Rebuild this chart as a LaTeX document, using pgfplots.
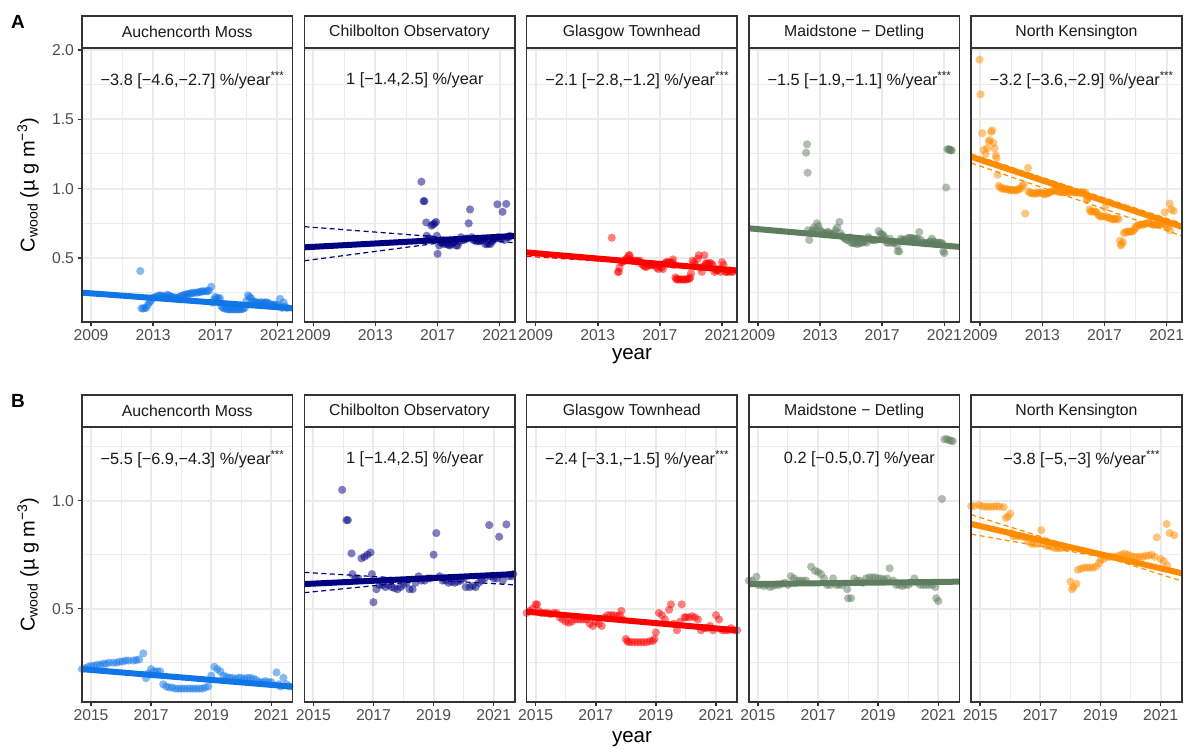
\documentclass[border=0pt]{standalone}
\usepackage{fontspec}
\setmainfont{Liberation Sans}
\usepackage{pgfplots}
\usepackage{pgfplotstable}
\pgfplotsset{compat=1.18}
\definecolor{cAM}{RGB}{16,118,232}
\definecolor{cCO}{RGB}{0,0,128}
\definecolor{cGT}{RGB}{255,0,0}
\definecolor{cMD}{RGB}{95,125,95}
\definecolor{cNK}{RGB}{255,140,0}
\definecolor{gridc}{RGB}{235,235,235}
\definecolor{framec}{RGB}{51,51,51}
\definecolor{tickc}{RGB}{77,77,77}
\definecolor{txtc}{RGB}{26,26,26}

\pgfplotstableread[row sep=\\]{x y\\
2012.17 0.406\\ 2012.25 0.137\\ 2012.35 0.135\\ 2012.45 0.14\\ 2012.55 0.14\\ 2012.65 0.16\\ 2012.75 0.18\\ 2012.85 0.19\\ 2012.95 0.21\\
2013.05 0.215\\ 2013.15 0.22\\ 2013.3 0.225\\ 2013.4 0.23\\ 2013.5 0.23\\ 2013.6 0.225\\ 2013.7 0.22\\ 2013.8 0.22\\ 2013.9 0.235\\
2014.0 0.23\\ 2014.1 0.225\\ 2014.2 0.22\\ 2014.3 0.215\\ 2014.4 0.215\\ 2014.5 0.21\\ 2014.6 0.215\\ 2014.7 0.22\\ 2014.8 0.225\\ 2014.9 0.23\\
2015.0 0.235\\ 2015.1 0.235\\ 2015.2 0.24\\ 2015.3 0.24\\ 2015.4 0.245\\ 2015.5 0.245\\ 2015.6 0.25\\ 2015.74 0.25\\ 2015.85 0.25\\ 2015.95 0.255\\
2016.05 0.255\\ 2016.15 0.26\\ 2016.25 0.26\\ 2016.4 0.26\\ 2016.5 0.262\\ 2016.6 0.265\\ 2016.74 0.293\\ 2016.83 0.178\\ 2016.9 0.2\\
2017.0 0.22\\ 2017.1 0.21\\ 2017.2 0.21\\ 2017.3 0.21\\ 2017.4 0.15\\ 2017.5 0.14\\ 2017.6 0.135\\ 2017.7 0.135\\ 2017.8 0.13\\ 2017.9 0.13\\
2018.0 0.13\\ 2018.1 0.13\\ 2018.2 0.13\\ 2018.3 0.13\\ 2018.4 0.13\\ 2018.5 0.13\\ 2018.6 0.13\\ 2018.7 0.13\\ 2018.8 0.135\\ 2018.9 0.14\\
2019.0 0.19\\ 2019.1 0.231\\ 2019.2 0.22\\ 2019.3 0.21\\ 2019.4 0.19\\ 2019.5 0.185\\ 2019.6 0.18\\ 2019.7 0.18\\ 2019.8 0.175\\ 2019.9 0.18\\
2020.0 0.18\\ 2020.1 0.175\\ 2020.2 0.18\\ 2020.3 0.18\\ 2020.4 0.175\\ 2020.5 0.17\\ 2020.6 0.16\\ 2020.7 0.16\\ 2020.8 0.165\\ 2020.9 0.16\\
2021.0 0.16\\ 2021.17 0.205\\ 2021.25 0.15\\ 2021.3 0.14\\ 2021.4 0.18\\ 2021.5 0.15\\ 2021.6 0.14\\
}\AM

\pgfplotstableread[row sep=\\]{x y\\
2015.96 1.05\\ 2016.1 0.91\\ 2016.15 0.91\\ 2016.27 0.756\\ 2016.3 0.66\\ 2016.4 0.64\\ 2016.5 0.64\\ 2016.6 0.733\\ 2016.7 0.74\\ 2016.8 0.75\\ 2016.9 0.76\\ 2016.95 0.66\\
2017.0 0.53\\ 2017.1 0.59\\ 2017.2 0.61\\ 2017.3 0.61\\ 2017.4 0.60\\ 2017.5 0.61\\ 2017.6 0.60\\ 2017.7 0.595\\ 2017.8 0.59\\ 2017.9 0.60\\
2018.0 0.61\\ 2018.1 0.62\\ 2018.2 0.59\\ 2018.3 0.59\\ 2018.4 0.62\\ 2018.5 0.65\\ 2018.6 0.63\\ 2018.7 0.63\\ 2018.8 0.64\\ 2018.9 0.64\\
2019.0 0.75\\ 2019.09 0.85\\ 2019.2 0.65\\ 2019.3 0.63\\ 2019.4 0.63\\ 2019.5 0.62\\ 2019.6 0.625\\ 2019.7 0.62\\ 2019.8 0.625\\ 2019.9 0.63\\
2020.0 0.64\\ 2020.07 0.60\\ 2020.2 0.60\\ 2020.3 0.605\\ 2020.4 0.60\\ 2020.5 0.62\\ 2020.6 0.63\\ 2020.7 0.64\\ 2020.85 0.887\\ 2020.9 0.65\\
2021.0 0.64\\ 2021.1 0.64\\ 2021.18 0.833\\ 2021.3 0.63\\ 2021.42 0.89\\ 2021.5 0.65\\ 2021.6 0.65\\ 2021.65 0.66\\
}\CO

\pgfplotstableread[row sep=\\]{x y\\
2013.9 0.646\\ 2014.3 0.40\\ 2014.35 0.40\\ 2014.4 0.43\\ 2014.5 0.47\\ 2014.6 0.47\\ 2014.7 0.48\\ 2014.8 0.49\\ 2014.9 0.50\\
2015.0 0.52\\ 2015.05 0.52\\ 2015.1 0.49\\ 2015.2 0.48\\ 2015.3 0.48\\ 2015.4 0.48\\ 2015.5 0.475\\ 2015.6 0.48\\ 2015.7 0.48\\ 2015.8 0.46\\ 2015.9 0.45\\
2016.0 0.44\\ 2016.1 0.435\\ 2016.2 0.44\\ 2016.3 0.45\\ 2016.4 0.45\\ 2016.5 0.45\\ 2016.6 0.45\\ 2016.7 0.45\\ 2016.8 0.43\\ 2016.9 0.42\\
2017.0 0.44\\ 2017.1 0.43\\ 2017.2 0.42\\ 2017.3 0.46\\ 2017.4 0.47\\ 2017.5 0.47\\ 2017.6 0.47\\ 2017.7 0.465\\ 2017.8 0.47\\ 2017.85 0.49\\ 2017.9 0.45\\
2018.0 0.36\\ 2018.05 0.35\\ 2018.1 0.345\\ 2018.2 0.345\\ 2018.3 0.345\\ 2018.4 0.345\\ 2018.5 0.345\\ 2018.6 0.345\\ 2018.7 0.345\\ 2018.8 0.35\\ 2018.9 0.35\\ 2018.95 0.36\\
2019.0 0.39\\ 2019.1 0.48\\ 2019.2 0.47\\ 2019.3 0.45\\ 2019.44 0.495\\ 2019.5 0.52\\ 2019.6 0.43\\ 2019.7 0.40\\ 2019.8 0.44\\ 2019.86 0.52\\ 2019.95 0.46\\
2020.0 0.46\\ 2020.1 0.46\\ 2020.2 0.465\\ 2020.3 0.46\\ 2020.4 0.45\\ 2020.5 0.40\\ 2020.6 0.41\\ 2020.7 0.41\\ 2020.8 0.42\\ 2020.9 0.40\\
2021.0 0.47\\ 2021.1 0.45\\ 2021.2 0.40\\ 2021.3 0.40\\ 2021.4 0.40\\ 2021.5 0.41\\ 2021.6 0.40\\ 2021.7 0.40\\
}\GT

\pgfplotstableread[row sep=\\]{x y\\
2012.1 1.26\\ 2012.16 1.32\\ 2012.2 1.115\\ 2012.22 0.70\\ 2012.3 0.63\\ 2012.4 0.68\\ 2012.5 0.70\\ 2012.6 0.72\\ 2012.7 0.70\\ 2012.8 0.75\\ 2012.9 0.73\\
2013.0 0.70\\ 2013.1 0.69\\ 2013.2 0.68\\ 2013.3 0.67\\ 2013.4 0.68\\ 2013.5 0.69\\ 2013.6 0.68\\ 2013.7 0.67\\ 2013.8 0.67\\ 2013.9 0.68\\
2014.0 0.70\\ 2014.1 0.72\\ 2014.25 0.76\\ 2014.3 0.68\\ 2014.4 0.66\\ 2014.5 0.65\\ 2014.6 0.64\\ 2014.7 0.63\\ 2014.8 0.63\\ 2014.95 0.648\\
2015.0 0.61\\ 2015.1 0.61\\ 2015.2 0.605\\ 2015.3 0.61\\ 2015.4 0.60\\ 2015.5 0.605\\ 2015.6 0.61\\ 2015.7 0.61\\ 2015.8 0.615\\ 2015.9 0.62\\
2016.0 0.61\\ 2016.1 0.65\\ 2016.2 0.64\\ 2016.3 0.63\\ 2016.4 0.63\\ 2016.5 0.63\\ 2016.6 0.63\\ 2016.77 0.694\\ 2016.9 0.675\\
2017.0 0.67\\ 2017.1 0.66\\ 2017.2 0.64\\ 2017.3 0.61\\ 2017.4 0.61\\ 2017.5 0.64\\ 2017.6 0.61\\ 2017.7 0.61\\ 2017.8 0.61\\ 2017.97 0.59\\
2018.0 0.548\\ 2018.1 0.548\\ 2018.2 0.64\\ 2018.3 0.63\\ 2018.4 0.63\\ 2018.5 0.62\\ 2018.6 0.64\\ 2018.7 0.645\\ 2018.8 0.645\\ 2018.9 0.645\\
2019.0 0.64\\ 2019.1 0.64\\ 2019.2 0.635\\ 2019.3 0.64\\ 2019.38 0.687\\ 2019.5 0.63\\ 2019.6 0.61\\ 2019.7 0.61\\ 2019.8 0.605\\ 2019.9 0.61\\
2020.0 0.61\\ 2020.1 0.62\\ 2020.2 0.64\\ 2020.3 0.62\\ 2020.4 0.61\\ 2020.5 0.61\\ 2020.6 0.61\\ 2020.7 0.61\\ 2020.8 0.61\\ 2020.9 0.60\\
2020.93 0.548\\ 2021.0 0.535\\ 2021.12 1.008\\ 2021.2 1.284\\ 2021.28 1.285\\ 2021.35 1.28\\ 2021.42 1.278\\ 2021.48 1.275\\
}\MD

\pgfplotstableread[row sep=\\]{x y\\
2008.95 1.93\\ 2009.02 1.68\\ 2009.13 1.40\\ 2009.23 1.28\\ 2009.35 1.25\\ 2009.45 1.29\\ 2009.55 1.34\\ 2009.62 1.35\\ 2009.7 1.41\\ 2009.77 1.42\\ 2009.85 1.33\\ 2009.92 1.29\\
2010.0 1.24\\ 2010.05 1.22\\ 2010.12 1.10\\ 2010.2 1.02\\ 2010.3 1.01\\ 2010.4 1.0\\ 2010.5 1.0\\ 2010.6 1.0\\ 2010.7 0.995\\ 2010.8 0.995\\ 2010.9 0.99\\
2011.0 0.99\\ 2011.1 0.99\\ 2011.2 0.99\\ 2011.3 0.99\\ 2011.4 0.99\\ 2011.5 1.0\\ 2011.6 1.0\\ 2011.7 1.02\\ 2011.8 1.03\\ 2011.9 0.82\\
2012.08 1.15\\ 2012.1 0.98\\ 2012.2 0.97\\ 2012.3 0.97\\ 2012.4 0.965\\ 2012.5 0.965\\ 2012.6 0.965\\ 2012.7 0.97\\ 2012.8 0.97\\ 2012.9 0.97\\
2013.0 0.97\\ 2013.1 0.96\\ 2013.2 0.96\\ 2013.3 0.965\\ 2013.4 0.97\\ 2013.5 0.975\\ 2013.6 0.98\\ 2013.7 0.985\\ 2013.8 0.985\\ 2013.9 0.985\\
2014.0 0.98\\ 2014.1 0.975\\ 2014.2 0.975\\ 2014.3 0.975\\ 2014.4 0.975\\ 2014.5 0.975\\ 2014.6 0.975\\ 2014.7 0.975\\ 2014.8 0.975\\ 2014.95 0.98\\
2015.05 0.975\\ 2015.15 0.972\\ 2015.25 0.972\\ 2015.35 0.972\\ 2015.45 0.972\\ 2015.55 0.975\\ 2015.65 0.972\\ 2015.78 0.97\\ 2015.85 0.92\\ 2015.92 0.926\\
2016.0 0.94\\ 2016.05 0.85\\ 2016.1 0.835\\ 2016.2 0.835\\ 2016.3 0.835\\ 2016.4 0.835\\ 2016.5 0.83\\ 2016.6 0.81\\ 2016.7 0.80\\ 2016.8 0.80\\ 2016.9 0.80\\
2017.03 0.864\\ 2017.1 0.80\\ 2017.2 0.79\\ 2017.3 0.79\\ 2017.4 0.785\\ 2017.5 0.78\\ 2017.6 0.78\\ 2017.7 0.78\\ 2017.8 0.785\\ 2017.9 0.78\\
2018.0 0.625\\ 2018.05 0.59\\ 2018.1 0.60\\ 2018.2 0.615\\ 2018.25 0.68\\ 2018.35 0.685\\ 2018.45 0.69\\ 2018.55 0.69\\ 2018.65 0.69\\ 2018.75 0.69\\ 2018.85 0.695\\ 2018.95 0.71\\
2019.0 0.725\\ 2019.1 0.73\\ 2019.2 0.74\\ 2019.3 0.74\\ 2019.4 0.74\\ 2019.5 0.74\\ 2019.6 0.745\\ 2019.7 0.75\\ 2019.8 0.755\\ 2019.9 0.75\\
2020.0 0.745\\ 2020.1 0.74\\ 2020.2 0.74\\ 2020.3 0.74\\ 2020.4 0.74\\ 2020.5 0.745\\ 2020.6 0.745\\ 2020.7 0.75\\ 2020.8 0.74\\ 2020.87 0.83\\
2021.0 0.73\\ 2021.1 0.72\\ 2021.2 0.892\\ 2021.22 0.70\\ 2021.3 0.85\\ 2021.45 0.84\\
}\NK

\tikzset{ann/.style={font=\fontsize{16.3}{17}\selectfont, text=txtc}}

\pgfplotsset{
  panel/.style={scale only axis, width=210.5pt, anchor=north west, clip=true,
    grid=both,
    major grid style={draw=gridc, line width=2pt},
    minor grid style={draw=gridc, line width=1pt},
    axis line style={draw=none},
    tick align=outside, tick pos=left,
    major tick length=4.5pt, minor tick length=0pt,
    tick style={draw=framec, line width=1.5pt},
    tick label style={font=\fontsize{15.7}{16}\selectfont, text=tickc},
    /pgf/number format/assume math mode=true},
  rowA/.style={height=274pt, xmin=2008.42, xmax=2021.97, ymin=0.0385, ymax=2.0144,
    xtick={2009,2013,2017,2021}, xticklabels={2009,2013,2017,2021},
    minor xtick={2011,2015,2019},
    ytick={0.5,1,1.5,2}, minor ytick={0.25,0.75,1.25,1.75}},
  rowB/.style={height=275pt, xmin=2014.7, xmax=2021.7, ymin=0.068, ymax=1.341,
    xtick={2015,2017,2019,2021}, xticklabels={2015,2017,2019,2021},
    minor xtick={2016,2018,2020},
    ytick={0.5,1}, minor ytick={0.25,0.75,1.25}},
  noy/.style={yticklabels={}, ytick style={draw=none}},
  pts/.style={only marks, mark=*, mark size=4.1pt, mark options={fill=#1, draw opacity=0, fill opacity=0.5}},
  trend/.style={draw=#1, line width=6pt, no marks},
  ci/.style={draw=#1, line width=1.2pt, dash pattern=on 5pt off 3.5pt, no marks},
  rb/.style={restrict x to domain=2014.6:2021.8}
}

\newcommand{\strip}[2]{%
  \draw[framec, line width=1.6pt, fill=white] (#1.north west) rectangle ([yshift=32pt]#1.north east);
  \node[font=\fontsize{15.8}{16}\selectfont, text=txtc] at ([yshift=16pt]#1.north) {#2};
  \draw[framec, line width=1.6pt] (#1.south west) rectangle (#1.north east);}

\begin{document}
\begin{tikzpicture}
\path[use as bounding box] (0,0) rectangle (1187pt,750pt);

% ---------------- Row A ----------------
\begin{axis}[panel, rowA, at={(82pt,702pt)}, name=a1, yticklabels={0.5,1.0,1.5,2.0}]
\addplot[pts=cAM] table[x=x,y=y] {\AM};
\addplot[trend=cAM] coordinates {(2008.42,0.25) (2021.97,0.137)};
\node[ann] at (rel axis cs:0.525,0.883) {−3.8 [−4.6,−2.7] \%/year\textsuperscript{***}};
\end{axis}

\begin{axis}[panel, rowA, noy, at={(304.3pt,702pt)}, name=a2]
\addplot[pts=cCO] table[x=x,y=y] {\CO};
\addplot[trend=cCO] coordinates {(2008.42,0.577) (2021.97,0.659)};
\addplot[ci=cCO] coordinates {(2008.42,0.726) (2021.97,0.61)};
\addplot[ci=cCO] coordinates {(2008.42,0.48) (2021.97,0.68)};
\node[ann] at (rel axis cs:0.525,0.883) {1 [−1.4,2.5] \%/year};
\end{axis}

\begin{axis}[panel, rowA, noy, at={(526.6pt,702pt)}, name=a3]
\addplot[pts=cGT] table[x=x,y=y] {\GT};
\addplot[trend=cGT] coordinates {(2008.42,0.54) (2021.97,0.41)};
\addplot[ci=cGT] coordinates {(2008.42,0.556) (2021.97,0.40)};
\addplot[ci=cGT] coordinates {(2008.42,0.512) (2021.97,0.415)};
\node[ann] at (rel axis cs:0.525,0.883) {−2.1 [−2.8,−1.2] \%/year\textsuperscript{***}};
\end{axis}

\begin{axis}[panel, rowA, noy, at={(748.9pt,702pt)}, name=a4]
\addplot[pts=cMD] table[x=x,y=y] {\MD};
\addplot[trend=cMD] coordinates {(2008.42,0.714) (2021.97,0.58)};
\addplot[ci=cMD] coordinates {(2008.42,0.726) (2021.97,0.574)};
\addplot[ci=cMD] coordinates {(2008.42,0.70) (2021.97,0.59)};
\node[ann] at (rel axis cs:0.525,0.883) {−1.5 [−1.9,−1.1] \%/year\textsuperscript{***}};
\end{axis}

\begin{axis}[panel, rowA, noy, at={(971.2pt,702pt)}, name=a5]
\addplot[pts=cNK] table[x=x,y=y] {\NK};
\addplot[trend=cNK] coordinates {(2008.42,1.23) (2021.97,0.726)};
\addplot[ci=cNK] coordinates {(2008.42,1.185) (2021.97,0.66)};
\addplot[ci=cNK] coordinates {(2008.42,1.25) (2021.97,0.75)};
\node[ann] at (rel axis cs:0.525,0.883) {−3.2 [−3.6,−2.9] \%/year\textsuperscript{***}};
\end{axis}

% ---------------- Row B ----------------
\begin{axis}[panel, rowB, at={(82pt,323pt)}, name=b1, yticklabels={0.5,1.0}]
\addplot[pts=cAM, rb] table[x=x,y=y] {\AM};
\addplot[trend=cAM] coordinates {(2014.7,0.22) (2021.7,0.139)};
\node[ann] at (rel axis cs:0.525,0.883) {−5.5 [−6.9,−4.3] \%/year\textsuperscript{***}};
\end{axis}

\begin{axis}[panel, rowB, noy, at={(304.3pt,323pt)}, name=b2]
\addplot[pts=cCO, rb] table[x=x,y=y] {\CO};
\addplot[trend=cCO] coordinates {(2014.7,0.614) (2021.7,0.66)};
\addplot[ci=cCO] coordinates {(2014.7,0.668) (2021.7,0.61)};
\addplot[ci=cCO] coordinates {(2014.7,0.574) (2021.7,0.672)};
\node[ann] at (rel axis cs:0.525,0.883) {1 [−1.4,2.5] \%/year};
\end{axis}

\begin{axis}[panel, rowB, noy, at={(526.6pt,323pt)}, name=b3]
\addplot[pts=cGT, rb] table[x=x,y=y] {\GT};
\addplot[trend=cGT] coordinates {(2014.7,0.486) (2021.7,0.40)};
\addplot[ci=cGT] coordinates {(2014.7,0.495) (2021.7,0.392)};
\addplot[ci=cGT] coordinates {(2014.7,0.476) (2021.7,0.41)};
\node[ann] at (rel axis cs:0.525,0.883) {−2.4 [−3.1,−1.5] \%/year\textsuperscript{***}};
\end{axis}

\begin{axis}[panel, rowB, noy, at={(748.9pt,323pt)}, name=b4]
\addplot[pts=cMD, rb] table[x=x,y=y] {\MD};
\addplot[trend=cMD] coordinates {(2014.7,0.614) (2021.7,0.625)};
\node[ann] at (rel axis cs:0.525,0.883) {0.2 [−0.5,0.7] \%/year};
\end{axis}

\begin{axis}[panel, rowB, noy, at={(971.2pt,323pt)}, name=b5]
\addplot[pts=cNK, rb] table[x=x,y=y] {\NK};
\addplot[trend=cNK] coordinates {(2014.7,0.892) (2021.7,0.664)};
\addplot[ci=cNK] coordinates {(2014.7,0.935) (2021.7,0.628)};
\addplot[ci=cNK] coordinates {(2014.7,0.845) (2021.7,0.675)};
\node[ann] at (rel axis cs:0.525,0.883) {−3.8 [−5,−3] \%/year\textsuperscript{***}};
\end{axis}

% strips and frames
\strip{a1}{Auchencorth Moss}
\strip{a2}{Chilbolton Observatory}
\strip{a3}{Glasgow Townhead}
\strip{a4}{Maidstone − Detling}
\strip{a5}{North Kensington}
\strip{b1}{Auchencorth Moss}
\strip{b2}{Chilbolton Observatory}
\strip{b3}{Glasgow Townhead}
\strip{b4}{Maidstone − Detling}
\strip{b5}{North Kensington}

% titles
\node[font=\fontsize{20.5}{21}\selectfont, text=black] at (632pt,394pt) {year};
\node[font=\fontsize{20.5}{21}\selectfont, text=black] at (632pt,11pt) {year};
\node[font=\fontsize{20}{21}\selectfont, text=black, rotate=90] at (28pt,565pt) {C\textsubscript{wood} (µ g m\textsuperscript{−3})};
\node[font=\fontsize{20}{21}\selectfont, text=black, rotate=90] at (28pt,185.5pt) {C\textsubscript{wood} (µ g m\textsuperscript{−3})};
\node[font=\bfseries\fontsize{19}{19}\selectfont] at (18pt,728pt) {A};
\node[font=\bfseries\fontsize{19}{19}\selectfont] at (18pt,349pt) {B};
\end{tikzpicture}
\end{document}
